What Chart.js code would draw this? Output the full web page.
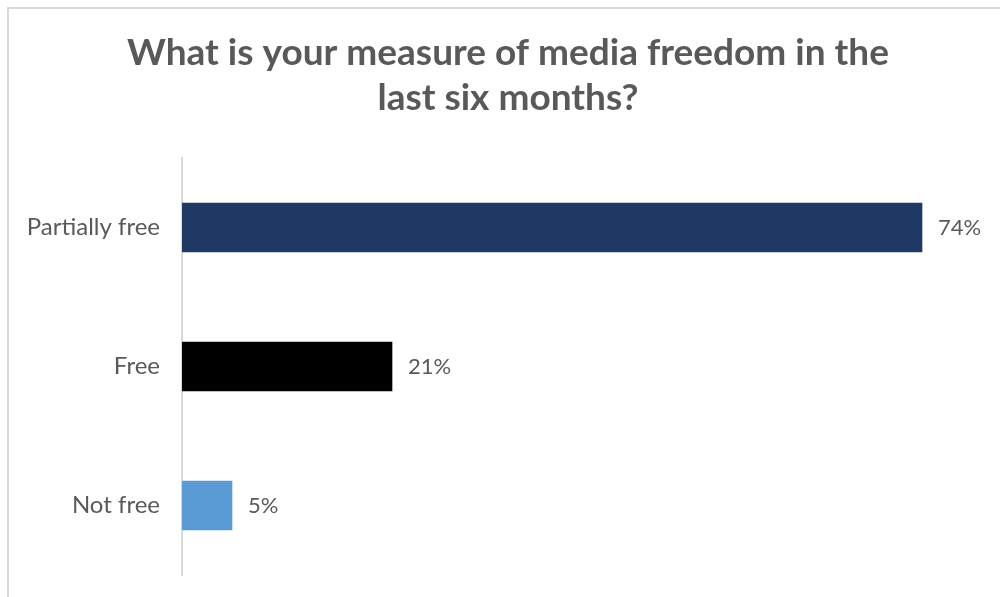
<!DOCTYPE html>
<html>
<head>
<meta charset="utf-8">
<script src="https://cdn.jsdelivr.net/npm/chart.js@4.4.1/dist/chart.umd.min.js"></script>
<style>
  html, body { margin: 0; padding: 0; background: #ffffff; overflow: hidden; }
  #frame {
    position: absolute; left: 7px; top: 7px; right: 0; bottom: 0;
    border-left: 2px solid #d9d9d9; border-top: 2px solid #d9d9d9;
  }
  #wrap { position: absolute; left: 0; top: 0; width: 1000px; height: 597px; }
</style>
</head>
<body>
<div id="frame"></div>
<div id="wrap"><canvas id="c"></canvas></div>
<script>
// Survey answers: share of respondents per media-freedom rating
const categories = ['Partially free', 'Free', 'Not free'];
const shares = [74, 21, 5];
const barColors = ['#1f3864', '#000000', '#5b9bd5'];
const titleLines = ['What is your measure of media freedom in the', 'last six months?'];

// Two-line heading, centred over the whole card
const heading = {
  id: 'heading',
  afterDraw(chart) {
    const ctx = chart.ctx;
    ctx.save();
    ctx.font = 'bold 37px Lato';
    ctx.fillStyle = '#595959';
    ctx.textAlign = 'center';
    ctx.textBaseline = 'alphabetic';
    titleLines.forEach((line, i) => ctx.fillText(line, 508, 65 + i * 45));
    ctx.restore();
  }
};

// Writes the percentage to the right of each bar
const valueLabels = {
  id: 'valueLabels',
  afterDatasetsDraw(chart) {
    const ctx = chart.ctx;
    const meta = chart.getDatasetMeta(0);
    ctx.save();
    ctx.font = '22px Lato';
    ctx.fillStyle = '#595959';
    ctx.textAlign = 'left';
    ctx.textBaseline = 'middle';
    meta.data.forEach((bar, i) => {
      ctx.fillText(shares[i] + '%', bar.x + 16, bar.y);
    });
    ctx.restore();
  }
};

new Chart(document.getElementById('c'), {
  type: 'bar',
  data: {
    labels: categories,
    datasets: [{
      data: shares,
      backgroundColor: barColors,
      barThickness: 49
    }]
  },
  options: {
    indexAxis: 'y',
    responsive: true,
    maintainAspectRatio: false,
    animation: false,
    layout: { padding: { top: 158, right: 18, bottom: 22, left: 0 } },
    plugins: {
      legend: { display: false },
      tooltip: { enabled: false },
      title: { display: false }
    },
    scales: {
      x: {
        display: false,
        min: 0,
        max: 80
      },
      y: {
        afterFit(scale) {
          scale.width = 182;
          // labels sit mid-band, so no extra room is needed above or below
          scale.paddingTop = 0;
          scale.paddingBottom = 0;
        },
        grid: { display: false, drawTicks: false },
        border: { display: true, color: '#d9d9d9', width: 2 },
        ticks: {
          color: '#595959',
          font: { family: 'Lato', size: 24 },
          padding: 22
        }
      }
    }
  },
  plugins: [heading, valueLabels]
});
</script>
</body>
</html>
